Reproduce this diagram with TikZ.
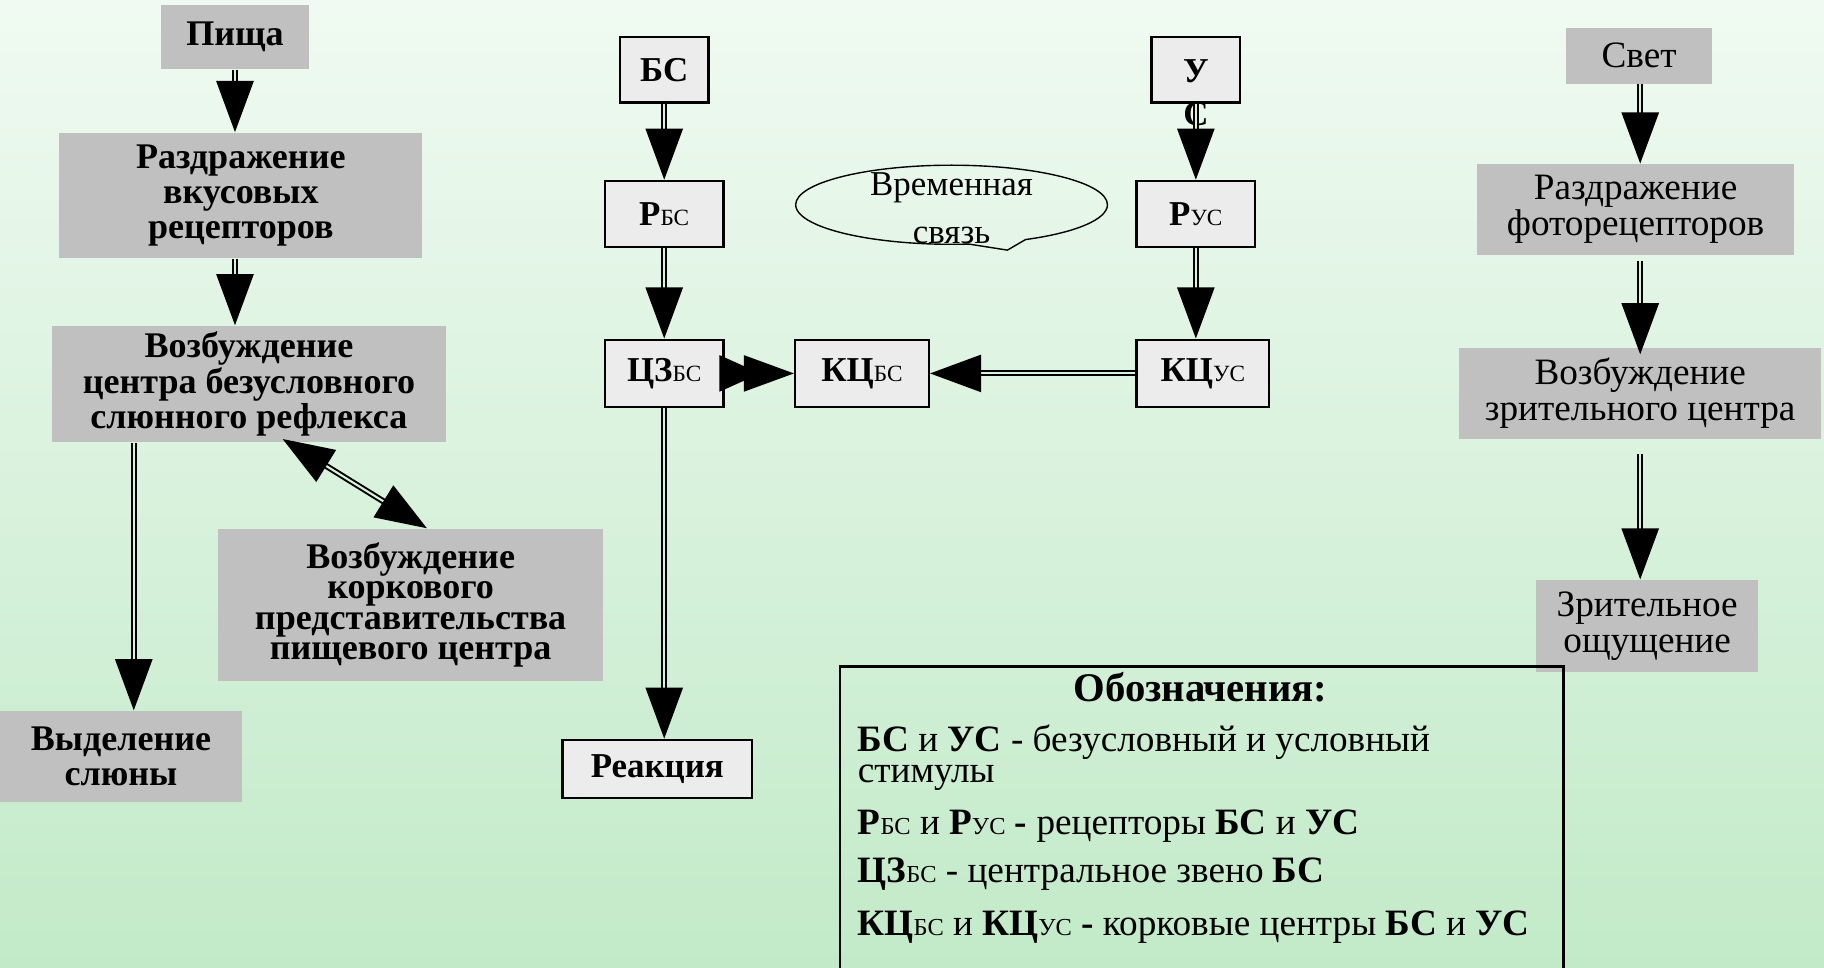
\documentclass[tikz,border=0pt]{standalone}
\usepackage{fontspec}
\setmainfont{Liberation Serif}
\usetikzlibrary{arrows.meta, shapes.callouts, calc}
\definecolor{bgtop}{RGB}{240,250,242}
\definecolor{bgbottom}{RGB}{194,234,200}
\definecolor{boxgray}{RGB}{192,192,192}
\definecolor{boxlight}{RGB}{236,236,236}
\newcommand{\lowidx}[2][10]{{\mdseries\fontsize{#1}{#1}\selectfont #2}}
\tikzset{
    graybold/.style={fill=boxgray, inner sep=0pt, align=center, font=\bfseries\fontsize{15.5}{13}\selectfont},
    grayplain/.style={fill=boxgray, inner sep=0pt, align=center, font=\fontsize{16}{15.5}\selectfont},
    framed/.style={draw=black, line width=1pt, fill=boxlight, inner sep=0pt, font=\bfseries\fontsize{15}{15}\selectfont},
    legline/.style={anchor=base west, inner sep=0pt, font=\fontsize{16}{16}\selectfont},
    arr/.style={draw=black, line width=0.85pt, double=bgtop!50!bgbottom, double distance=0.9pt, -{Triangle[length=22pt,width=16pt]}},
    arrboth/.style={arr, {Triangle[length=22pt,width=16pt]}-{Triangle[length=22pt,width=16pt]}},
    twotip/.style={arr, -{Triangle[length=17.5pt,width=15.5pt,sep=-7pt]Triangle[length=21.5pt,width=15.5pt]}}
}

\begin{document}
\begin{tikzpicture}[x=0.5pt, y=0.5pt]
    \shade[top color=bgtop, bottom color=bgbottom] (0,0) rectangle (1568,-832);
    \useasboundingbox (0,0) rectangle (1568,-832);

    \node[graybold, minimum width=63.5pt, minimum height=27.5pt] (pisha) at (202,-32) {Пища};
    \node[graybold, font=\bfseries\fontsize{15.5}{15}\selectfont, minimum width=156pt, minimum height=54pt] (razd) at (207,-168) {Раздражение\\вкусовых\\рецепторов};
    \node[graybold, minimum width=169pt, minimum height=50pt] (vozb) at (214,-330) {Возбуждение\\центра безусловного\\слюнного рефлекса};
    \node[graybold, font=\bfseries\fontsize{15.5}{15}\selectfont, minimum width=104pt, minimum height=39pt] (vydel) at (104,-650) {Выделение\\слюны};
    \node[graybold, minimum width=165.5pt, minimum height=65.5pt] (kork) at (353,-520) {Возбуждение\\коркового\\представительства\\пищевого центра};
    \coordinate (lx) at (115,0);

    \node[framed, minimum width=38pt, minimum height=28pt] (bs) at (571,-60) {БС};
    \node[framed, minimum width=51pt, minimum height=28.5pt] (rbs) at (571,-184) {Р\lowidx{БС}};
    \node[framed, minimum width=51pt, minimum height=29pt] (czbs) at (571,-321) {ЦЗ\lowidx{БС}};
    \node[framed, minimum width=57.5pt, minimum height=29pt] (kcbs) at (741,-321) {КЦ\lowidx{БС}};
    \node[framed, minimum width=81.5pt, minimum height=25pt] (reak) at (565,-661) {Реакция};
    \node[framed, minimum width=38pt, minimum height=28pt] (us) at (1028,-60) {};
    \node[inner sep=0pt, align=center, font=\bfseries\fontsize{15}{18.5}\selectfont] (ustext) at (1028,-80) {У\\С};
    \node[framed, minimum width=51pt, minimum height=28.5pt] (rus) at (1028,-184) {Р\lowidx{УС}};
    \node[framed, minimum width=57pt, minimum height=29pt] (kcus) at (1034,-321) {КЦ\lowidx{УС}};

    \node[ellipse callout, draw=black, line width=0.6pt, inner sep=0pt, minimum width=134pt, minimum height=34pt, callout pointer arc=22, callout absolute pointer={(866,-215)}] (svyaz) at (818,-176) {};
    \node[inner sep=0pt, align=center, font=\fontsize{15}{20.5}\selectfont] (svyaztext) at (818,-179) {Временная\\связь};

    \node[grayplain, minimum width=63pt, minimum height=24pt] (svet) at (1409,-48) {Свет};
    \node[grayplain, minimum width=136.5pt, minimum height=39pt] (razdf) at (1406,-180) {Раздражение\\фоторецепторов};
    \node[grayplain, minimum width=155.5pt, minimum height=39pt] (vozbz) at (1410,-338) {Возбуждение\\зрительного центра};
    \node[grayplain, minimum width=95.5pt, minimum height=39.5pt] (zrit) at (1416,-538) {Зрительное\\ощущение};
    \coordinate (rx) at (1410,0);

    \draw[arr] (pisha.south) -- (razd.north -| pisha.south);
    \draw[arr] (razd.south -| pisha.south) -- (vozb.north -| pisha.south);
    \draw[arr] (vozb.south -| lx) -- (vydel.north -| lx);
    \draw[arrboth] ($(vozb.south)+(29,3)$) -- ($(kork.north)+(14,0)$);

    \draw[arr] (bs.south) -- (rbs.north);
    \draw[arr] (rbs.south) -- (czbs.north);
    \draw[arr] (czbs.south) -- (reak.north -| czbs.south);
    \draw[twotip] (czbs.east) -- (kcbs.west);
    \draw[arr] (kcus.west) -- (kcbs.east);
    \draw[arr] (us.south) -- (rus.north);
    \draw[arr] (rus.south) -- (kcus.north -| rus.south);

    \draw[arr] (svet.south -| rx) -- (razdf.north -| rx);
    \draw[arr, shorten <=2.5pt, shorten >=-3pt] (razdf.south -| rx) -- (vozbz.north -| rx);
    \draw[arr, shorten <=6.5pt] (vozbz.south -| rx) -- (zrit.north -| rx);

    \node[draw=black, line width=1pt, inner sep=0pt, anchor=north west, minimum width=311pt, minimum height=140pt] (legend) at (721,-572) {};
    \node[anchor=base, inner sep=0pt, font=\bfseries\fontsize{17.5}{17.5}\selectfont] (legtitle) at (1032,-603) {Обозначения:};
    \node[legline] (leg1) at (737,-646) {\textbf{БС} и \textbf{УС} - безусловный и условный};
    \node[legline] (leg1b) at (737,-673) {стимулы};
    \node[legline] (leg2) at (737,-717) {\textbf{Р}\lowidx[10.5]{БС} и \textbf{Р}\lowidx[10.5]{УС} \textbf{-} рецепторы \textbf{БС} и \textbf{УС}};
    \node[legline] (leg3) at (737,-759) {\textbf{ЦЗ}\lowidx[10.5]{БС} - центральное звено \textbf{БС}};
    \node[legline] (leg4) at (737,-804) {\textbf{КЦ}\lowidx[10.5]{БС} и \textbf{КЦ}\lowidx[10.5]{УС} \textbf{-} корковые центры \textbf{БС} и \textbf{УС}};
\end{tikzpicture}
\end{document}
